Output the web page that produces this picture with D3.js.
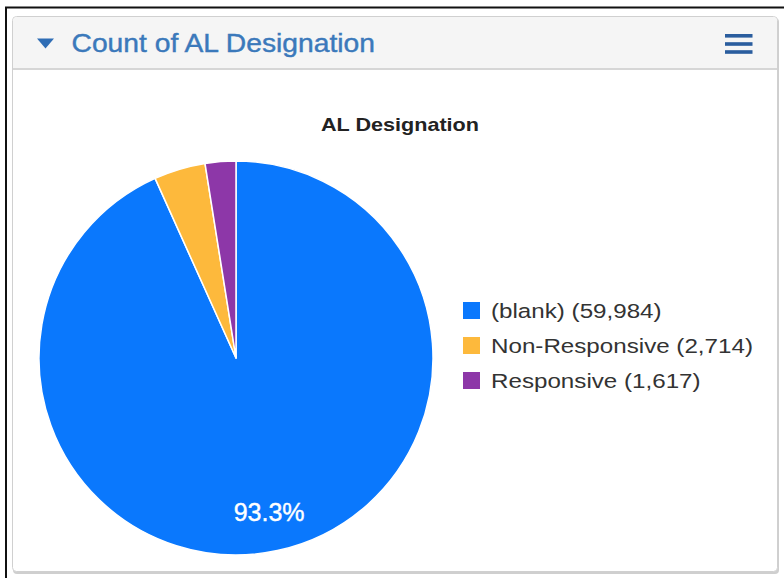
<!DOCTYPE html>
<html>
<head>
<meta charset="utf-8">
<script src="https://cdn.jsdelivr.net/npm/d3@7"></script>
<style>
    body { margin: 0; background: #fff; }
    svg { display: block; }
</style>
</head>
<body>
<svg id="chart"></svg>
<script>
// Chart data
const categories = ["(blank)", "Non-Responsive", "Responsive"];
const counts = [59984, 2714, 1617];
const colors = ["#0a78fd", "#fdb93c", "#8d37a8"];

const width = 784, height = 578;
const font = '"Liberation Sans", Arial, sans-serif';

const svg = d3.select('#chart')
    .attr('width', width)
    .attr('height', height)
    .style('font-family', font);

// Outer black frame
svg.append('path')
    .attr('d', 'M6,578 V7.5 H784')
    .attr('fill', 'none')
    .attr('stroke', '#111')
    .attr('stroke-width', 2);

// Panel with shadow
svg.append('rect')
    .attr('x', 13).attr('y', 18).attr('width', 766).attr('height', 556)
    .attr('rx', 4).attr('fill', '#cfcfcf');
svg.append('rect')
    .attr('x', 12.5).attr('y', 16.5).attr('width', 765).attr('height', 555)
    .attr('rx', 4).attr('fill', '#fff').attr('stroke', '#d0d0d0');

// Header
svg.append('path')
    .attr('d', 'M13,68.5 V21 a4,4 0 0 1 4,-4 H773 a4,4 0 0 1 4,4 V68.5 Z')
    .attr('fill', '#f5f5f5');
svg.append('line')
    .attr('x1', 13).attr('x2', 777).attr('y1', 69).attr('y2', 69)
    .attr('stroke', '#d6d6d6').attr('stroke-width', 2);

svg.append('path')
    .attr('d', 'M37,38.5 H54 L45.5,48.5 Z')
    .attr('fill', '#2f6db5');
svg.append('text')
    .attr('transform', 'translate(71.5,51.5) scale(1.13,1)')
    .attr('fill', '#3b79bb')
    .attr('stroke', '#3b79bb')
    .attr('stroke-width', 0.4)
    .style('font-size', '25px')
    .text('Count of AL Designation');

// Hamburger menu
[34, 42.2, 50.2].forEach(function (y) {
    svg.append('rect')
        .attr('x', 725).attr('y', y).attr('width', 27.5).attr('height', 3.6)
        .attr('fill', '#2a5d9e');
});

// Chart title
svg.append('text')
    .attr('transform', 'translate(400,130.5) scale(1.2,1)')
    .attr('text-anchor', 'middle')
    .style('font-size', '18px')
    .style('font-weight', 'bold')
    .attr('fill', '#222')
    .text('AL Designation');

// Pie
const pie_data = categories.map(function (c, i) { return { category: c, value: counts[i], color: colors[i] }; });
const total = d3.sum(counts);
const radius = 197;
const cx = 236, cy = 358;

const pie = d3.pie().value(function (d) { return d.value; }).sort(null);
const arc = d3.arc().innerRadius(0).outerRadius(radius);
const label_arc = d3.arc().innerRadius(radius * 0.8).outerRadius(radius * 0.8);

const pie_g = svg.append('g').attr('transform', 'translate(' + cx + ',' + cy + ')');

const slices = pie_g.selectAll('.slice')
    .data(pie(pie_data))
    .enter()
    .append('g')
    .attr('class', 'slice');

slices.append('path')
    .attr('d', arc)
    .attr('fill', function (d) { return d.data.color; })
    .attr('stroke', '#fff')
    .attr('stroke-width', 1.5)
    .attr('stroke-linejoin', 'round');

// Only label slices that are big enough
slices.filter(function (d) { return d.value / total > 0.1; })
    .append('text')
    .attr('transform', function (d) { return 'translate(' + label_arc.centroid(d) + ')'; })
    .attr('dy', '0.35em')
    .attr('text-anchor', 'middle')
    .attr('fill', '#fff')
    .attr('stroke', '#fff')
    .attr('stroke-width', 0.4)
    .style('font-size', '25px')
    .text(function (d) { return d3.format('.1%')(d.value / total); });

// Legend
const legend = svg.append('g').attr('transform', 'translate(463,302)');
const legend_items = legend.selectAll('.legend-item')
    .data(pie_data)
    .enter()
    .append('g')
    .attr('class', 'legend-item')
    .attr('transform', function (d, i) { return 'translate(0,' + (i * 35) + ')'; });

legend_items.append('rect')
    .attr('width', 17).attr('height', 17)
    .attr('fill', function (d) { return d.color; });

legend_items.append('text')
    .attr('transform', 'translate(28,15.5) scale(1.24,1)')
    .style('font-size', '19.5px')
    .attr('fill', '#333')
    .text(function (d) { return d.category + ' (' + d3.format(',')(d.value) + ')'; });
</script>
</body>
</html>
